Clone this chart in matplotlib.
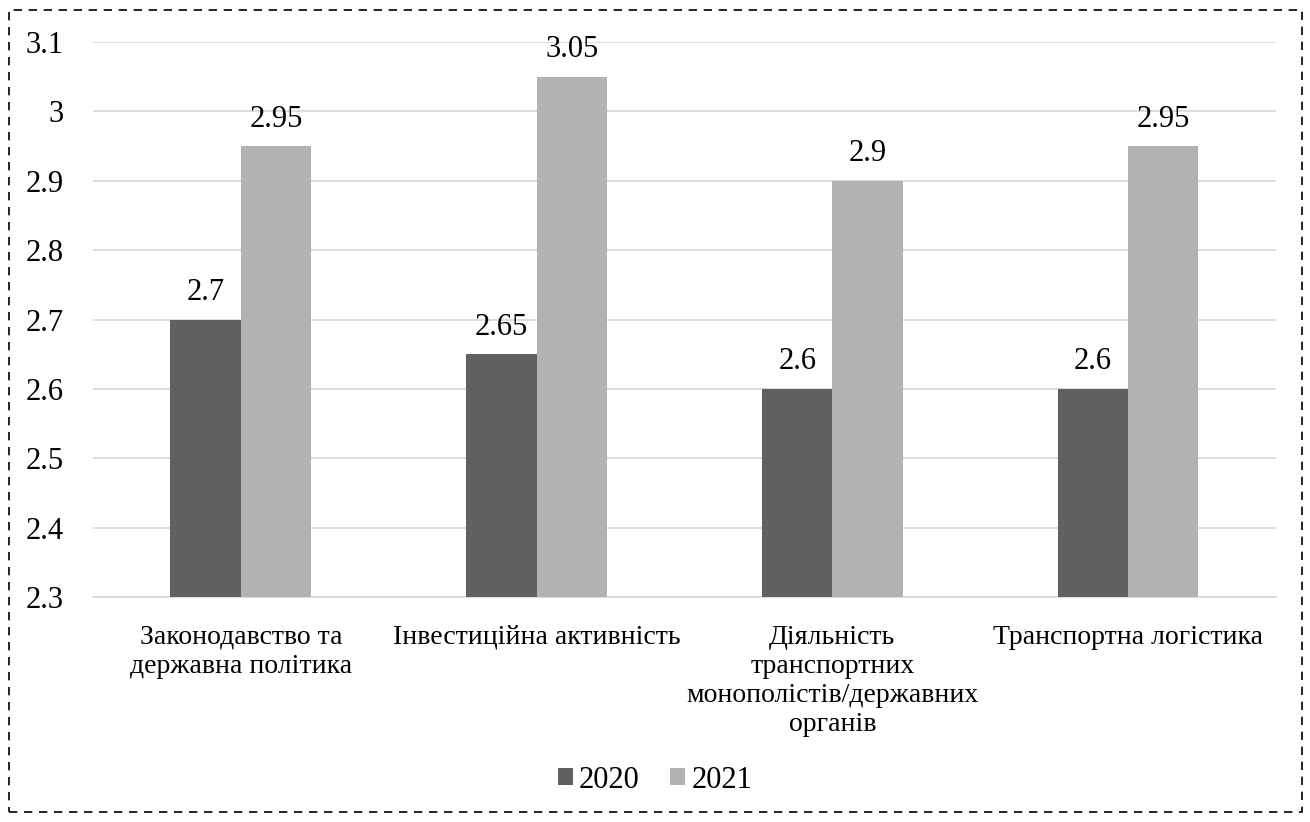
import matplotlib
matplotlib.use("Agg")
import matplotlib.pyplot as plt
from matplotlib.patches import Rectangle
import numpy as np

categories = [
    "Законодавство та\nдержавна політика",
    "Інвестиційна активність",
    "Діяльність\nтранспортних\nмонополістів/державних\nорганів",
    "Транспортна логістика",
]
values_2020 = [2.7, 2.65, 2.6, 2.6]
values_2021 = [2.95, 3.05, 2.9, 2.95]
series_labels = ["2020", "2021"]
y_ticks = [2.3, 2.4, 2.5, 2.6, 2.7, 2.8, 2.9, 3.0, 3.1]
y_tick_labels = ["2.3", "2.4", "2.5", "2.6", "2.7", "2.8", "2.9", "3", "3.1"]

plt.rcParams["font.family"] = ["Liberation Serif", "DejaVu Serif"]
FS = 22       # numbers: ticks, value labels, legend
FS_CAT = 20   # category captions

fig = plt.figure(figsize=(13.1, 8.22), dpi=100)
ax = fig.add_axes([0.071, 0.2737, 0.903, 0.6752])

x = np.arange(len(categories))
w = 0.238
c_dark = "#606060"
c_light = "#b2b2b2"
b1 = ax.bar(x - w / 2, values_2020, w, color=c_dark, label=series_labels[0], zorder=3)
b2 = ax.bar(x + w / 2, values_2021, w, color=c_light, label=series_labels[1], zorder=3)

for bars, vals in ((b1, values_2020), (b2, values_2021)):
    for rect, v in zip(bars, vals):
        ax.annotate(f"{v:g}", (rect.get_x() + rect.get_width() / 2, v),
                    xytext=(0, 9), textcoords="offset points",
                    ha="center", va="bottom", fontsize=FS)

ax.set_ylim(2.3, 3.1)
ax.set_xlim(-0.5, len(categories) - 0.5)
ax.set_yticks(y_ticks)
ax.set_yticklabels(y_tick_labels, fontsize=FS)
ax.set_xticks(x)
ax.set_xticklabels(categories, fontsize=FS_CAT, linespacing=1.21)
ax.tick_params(axis="x", length=0, pad=20)
ax.tick_params(axis="y", length=0, pad=21)
ax.grid(axis="y", color="#d9d9d9", linewidth=1.3, zorder=0)
for s in ("top", "right", "left"):
    ax.spines[s].set_visible(False)
ax.spines["bottom"].set_color("#d9d9d9")
ax.spines["bottom"].set_linewidth(1.3)

fig.legend(handles=[b1, b2], labels=series_labels, loc="center",
           bbox_to_anchor=(0.5, 0.051), ncol=2, frameon=False, fontsize=FS,
           handlelength=0.5, handleheight=0.5, handletextpad=0.2, columnspacing=1.0)

fig.patches.append(Rectangle((0.007, 0.012), 0.987, 0.976, transform=fig.transFigure,
                             fill=False, edgecolor="black", linewidth=1.2,
                             linestyle=(0, (5, 4))))

fig.savefig("out.png", dpi=100, facecolor="white")
